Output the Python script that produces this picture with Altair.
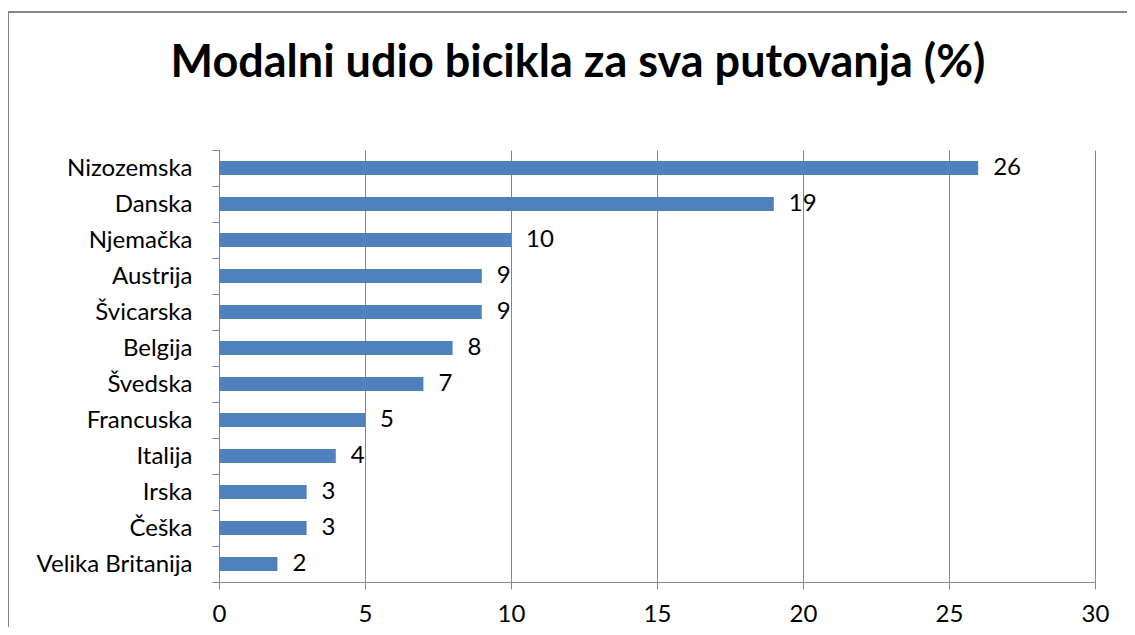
import altair as alt
import pandas as pd

countries = ["Nizozemska", "Danska", "Njemačka", "Austrija", "Švicarska", "Belgija",
             "Švedska", "Francuska", "Italija", "Irska", "Češka", "Velika Britanija"]
values = [26, 19, 10, 9, 9, 8, 7, 5, 4, 3, 3, 2]
x_ticks = [0, 5, 10, 15, 20, 25, 30]

df = pd.DataFrame({"country": countries, "value": values})

W, H = 876, 432
FONT = "Lato"
GRAY = "#868686"

y_enc = alt.Y("country:N", sort=countries,
              scale=alt.Scale(paddingInner=0, paddingOuter=0),
              axis=alt.Axis(title=None, tickBand="extent", labelFontSize=24, labelFont=FONT,
                            labelColor="black", labelPadding=20, tickSize=7, tickColor=GRAY,
                            domainColor=GRAY, grid=False, labelLimit=300))
x_enc = alt.X("value:Q", scale=alt.Scale(domain=[0, 30], nice=False),
              axis=alt.Axis(title=None, values=x_ticks, labelFontSize=24, labelFont=FONT,
                            labelColor="black", labelPadding=13, labelFlush=False,
                            tickSize=7, tickColor=GRAY,
                            domainColor=GRAY, grid=True, gridColor=GRAY, gridOpacity=1))

frame = alt.Chart(df).mark_rect(fill=None, stroke=GRAY, strokeWidth=1.5).encode(
    x=alt.value(-211), x2=alt.value(W + 400), y=alt.value(-138), y2=alt.value(H + 400)
)

bars = alt.Chart(df).mark_bar(size=14, color="#4F81BD").encode(x=x_enc, y=y_enc)
labels = alt.Chart(df).mark_text(align="left", baseline="middle", dx=15, fontSize=24,
                                 font=FONT, color="black").encode(
    x="value:Q", y=alt.Y("country:N", sort=countries), text="value:Q")

chart = alt.layer(frame, bars, labels).properties(
    width=W, height=H,
    autosize=alt.AutoSizeParams(type="none"),
    padding={"left": 211, "top": 142, "right": 32, "bottom": 45},
    title=alt.TitleParams("Modalni udio bicikla za sva putovanja (%)", font=FONT,
                          fontSize=45, fontWeight="bold", color="black",
                          anchor="middle", dx=-79, offset=-75),
).configure_view(stroke=None)

chart.save("out.html", embed_options={"renderer": "svg", "actions": False})
